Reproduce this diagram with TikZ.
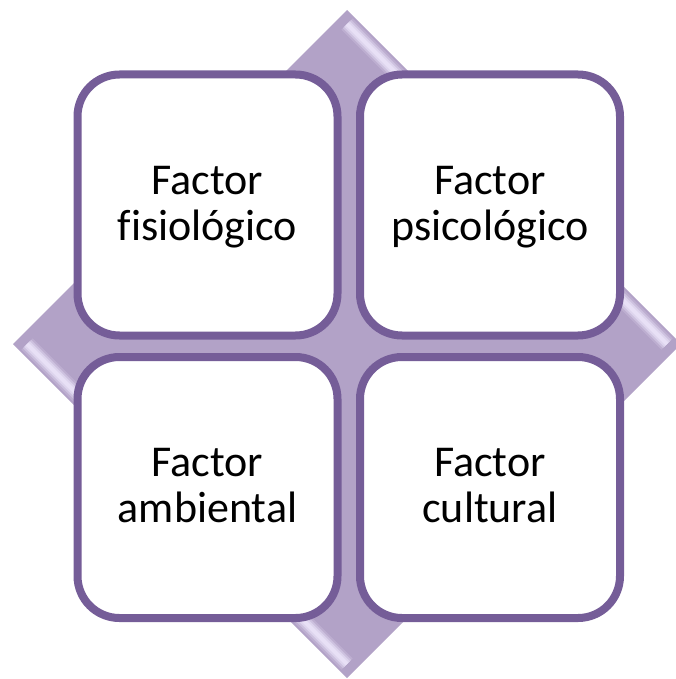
\documentclass[tikz,border=0pt]{standalone}
\usepackage{fontspec}
\setmainfont{Carlito}[Ligatures=NoCommon]
\usetikzlibrary{shadows}
\definecolor{lila}{RGB}{178,162,199}
\definecolor{lilaline}{RGB}{117,93,152}
\definecolor{lilalight}{RGB}{232,224,246}
\tikzset{
  caja/.style={draw=lilaline, line width=8pt, fill=white, rounded corners=42pt,
    minimum width=260pt, minimum height=261pt, inner sep=0pt, align=center,
    font=\fontsize{44}{46}\selectfont, text depth=4pt,
    drop shadow={opacity=.25, shadow xshift=2pt, shadow yshift=-3pt}}
}
\begin{document}
\begin{tikzpicture}[x=1pt,y=-1pt]
  \useasboundingbox (0,0) rectangle (675,679);
  \coordinate (N) at (347,10);
  \coordinate (E) at (681,344);
  \coordinate (S) at (347,678);
  \coordinate (W) at (13,344);
  \fill[lila] (N)--(E)--(S)--(W)--cycle;
  \foreach \w/\c in {16/lila!80!lilalight, 12/lila!50!lilalight, 8/lila!20!lilalight, 4/lilalight}{
    \draw[line width=\w pt, \c] (347,24)--(667,344) (27,344)--(347,664);
  }
  \foreach \n/\x/\y/\t in {fisio/207.5/205/{Factor\\fisiológico}, psico/490/205/{Factor\\psicológico},
      amb/207.5/487.5/{Factor\\ambiental}, cult/490/487.5/{Factor\\cultural}}
    \node[caja] (\n) at (\x,\y) {\t};
\end{tikzpicture}
\end{document}
